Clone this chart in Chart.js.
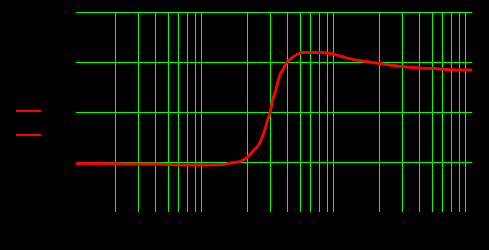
<!DOCTYPE html>
<html>
<head>
<meta charset="utf-8">
<script src="https://cdn.jsdelivr.net/npm/chart.js@4"></script>
<style>
  html, body { margin: 0; padding: 0; background: #000; }
  #wrap { width: 489px; height: 250px; }
</style>
</head>
<body>
<div id="wrap"><canvas id="responseChart"></canvas></div>
<script>
// frequência (Hz) e nível (dB)
const freqs = [10, 15, 27, 43, 61, 87, 130, 155, 175, 196, 218, 245, 267, 283, 297, 309, 327, 347, 368, 390, 425, 464, 522, 658, 840, 1000, 1262, 1592, 2010, 2535, 3200, 4040, 5090, 6430, 8110, 10000];
const levelA = [-20.3, -20.3, -20.4, -20.4, -20.6, -20.6, -20.5, -20.1, -19.9, -19.2, -17.9, -16.3, -13.9, -11.6, -9.9, -7.6, -5.6, -2.9, -1.6, -0.3, 0.7, 1.4, 1.9, 1.9, 1.7, 1.2, 0.5, 0.1, -0.3, -0.7, -1.0, -1.2, -1.3, -1.5, -1.6, -1.6];
const levelB = levelA.slice();
// linhas de grade: só 2..9 de cada década
const xTicks = [20, 30, 40, 50, 60, 70, 80, 90,
                200, 300, 400, 500, 600, 700, 800, 900,
                2000, 3000, 4000, 5000, 6000, 7000, 8000, 9000];
const yTicks = [-30, -20, -10, 0, 10];

const toPoints = (ys) => freqs.map((f, i) => ({ x: f, y: ys[i] }));

const bgPlugin = {
    id: 'bg',
    beforeDraw(chart) {
        const ctx = chart.ctx;
        ctx.save();
        ctx.fillStyle = '#000';
        ctx.fillRect(0, 0, chart.width, chart.height);
        ctx.restore();
    }
};

new Chart(document.getElementById('responseChart'), {
    type: 'line',
    data: {
        datasets: [
            { label: 'A', data: toPoints(levelA), borderColor: '#ff0000', borderWidth: 2.5, pointRadius: 0, cubicInterpolationMode: 'monotone' },
            { label: 'B', data: toPoints(levelB), borderColor: '#ff0000', borderWidth: 2.5, pointRadius: 0, cubicInterpolationMode: 'monotone' }
        ]
    },
    options: {
        responsive: true,
        maintainAspectRatio: false,
        animation: false,
        layout: { padding: { left: 4, top: 12, right: 17, bottom: 16 } },
        plugins: {
            tooltip: { enabled: false },
            legend: {
                position: 'left',
                labels: {
                    boxWidth: 25,
                    boxHeight: 2,
                    padding: 12,
                    font: { size: 12 },
                    generateLabels: (chart) => chart.data.datasets.map((ds, i) => ({
                        text: '',
                        fillStyle: ds.borderColor,
                        strokeStyle: ds.borderColor,
                        lineWidth: 0,
                        hidden: false,
                        datasetIndex: i
                    }))
                }
            }
        },
        scales: {
            x: {
                type: 'logarithmic',
                min: freqs[0],
                max: freqs[freqs.length - 1],
                afterBuildTicks: (scale) => { scale.ticks = xTicks.map(v => ({ value: v })); },
                border: { display: false },
                ticks: { display: false },
                grid: { drawTicks: false, lineWidth: 1, color: '#00ff00' },
                afterFit: (scale) => { scale.height = 22; }
            },
            y: {
                min: yTicks[0],
                max: yTicks[yTicks.length - 1],
                afterBuildTicks: (scale) => { scale.ticks = yTicks.map(v => ({ value: v })); },
                border: { display: false },
                ticks: { display: false },
                grid: {
                    drawTicks: false,
                    lineWidth: 1,
                    color: (c) => (c.tick && c.tick.value === yTicks[0]) ? 'rgba(0,0,0,0)' : '#00ff00'
                },
                afterFit: (scale) => { scale.width = 19; }
            }
        }
    },
    plugins: [bgPlugin]
});
</script>
</body>
</html>
